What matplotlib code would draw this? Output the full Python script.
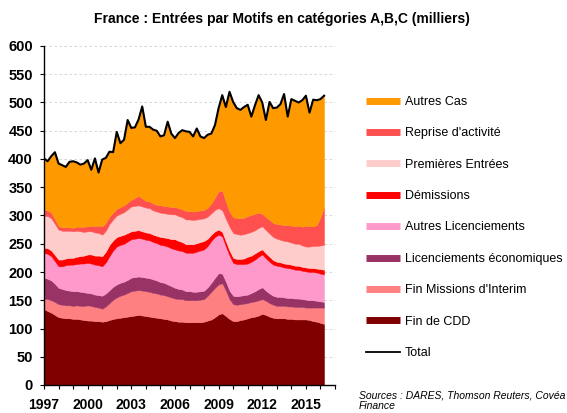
import numpy as np
import matplotlib
matplotlib.use("Agg")
import matplotlib.pyplot as plt
from matplotlib.lines import Line2D

plt.rcParams['font.family'] = ['Liberation Sans', 'DejaVu Sans']

start_year = 1997
step = 0.25  # quarterly

fin_cdd = [134, 131, 128, 124, 120, 119, 118, 118, 117, 117, 116, 115,
           114, 114, 113, 113, 112, 113, 115, 117, 118, 119, 120, 121,
           122, 123, 124, 123, 122, 121, 120, 119, 118, 117, 116, 114,
           113, 112, 112, 111, 111, 111, 111, 111, 112, 114, 116, 120,
           125, 127, 122, 117, 113, 113, 115, 116, 118, 120, 121, 123,
           126, 124, 121, 119, 118, 118, 118, 117, 117, 116, 116, 116,
           116, 115, 113, 112, 110, 108]
fin_interim = [19, 21, 22, 23, 23, 23, 23, 23, 23, 24, 24, 25,
               27, 26, 25, 24, 23, 26, 30, 34, 37, 39, 40, 42,
               44, 44, 44, 44, 44, 44, 43, 43, 42, 42, 41, 41,
               40, 40, 40, 39, 39, 39, 39, 40, 40, 44, 49, 52,
               53, 53, 45, 35, 30, 29, 28, 28, 27, 27, 27, 27,
               26, 25, 24, 23, 22, 22, 22, 22, 22, 22, 22, 22,
               21, 22, 24, 25, 27, 29]
lic_eco = [37, 36, 35, 32, 29, 28, 27, 26, 26, 25, 25, 24,
           22, 22, 22, 22, 23, 23, 23, 23, 23, 23, 23, 23,
           24, 24, 24, 24, 24, 24, 24, 23, 22, 22, 21, 20,
           19, 18, 17, 16, 16, 15, 15, 15, 15, 15, 16, 18,
           20, 17, 16, 15, 15, 15, 15, 15, 15, 16, 18, 20,
           21, 18, 17, 16, 16, 16, 15, 15, 15, 15, 15, 14,
           14, 13, 13, 12, 11, 10]
autres_lic = [44, 44, 43, 40, 38, 40, 44, 46, 47, 48, 50, 51,
              53, 53, 53, 53, 52, 55, 60, 64, 67, 67, 67, 68,
              68, 68, 68, 68, 67, 67, 66, 66, 66, 66, 67, 67,
              68, 68, 68, 68, 68, 69, 71, 72, 73, 73, 74, 72,
              68, 66, 62, 62, 58, 57, 56, 55, 55, 55, 56, 57,
              58, 57, 56, 55, 55, 54, 53, 53, 52, 51, 51, 50,
              50, 50, 50, 50, 49, 49]
demissions = [9, 10, 10, 11, 12, 12, 12, 12, 12, 13, 13, 14,
              15, 16, 16, 17, 18, 19, 20, 18, 17, 16, 16, 15,
              14, 14, 14, 13, 13, 13, 13, 13, 14, 14, 15, 16,
              18, 17, 16, 15, 15, 15, 15, 15, 15, 13, 11, 10,
              9, 8, 9, 9, 9, 9, 9, 10, 12, 11, 11, 10,
              9, 9, 9, 8, 7, 7, 7, 7, 7, 7, 7, 7,
              7, 7, 7, 7, 8, 8]
premieres = [56, 57, 57, 55, 53, 51, 49, 48, 47, 46, 44, 42,
             41, 41, 41, 40, 38, 37, 37, 37, 38, 39, 40, 42,
             44, 44, 44, 44, 44, 44, 43, 43, 43, 43, 43, 44,
             44, 44, 44, 44, 44, 43, 42, 41, 40, 39, 38, 38,
             38, 38, 40, 42, 44, 44, 43, 43, 42, 42, 41, 41,
             41, 41, 41, 41, 41, 40, 40, 40, 39, 39, 39, 38,
             37, 38, 39, 40, 42, 44]
reprise = [11, 10, 10, 8, 6, 6, 6, 6, 6, 7, 8, 9,
           9, 10, 11, 13, 15, 14, 13, 12, 12, 12, 12, 12,
           12, 14, 17, 14, 12, 12, 12, 12, 13, 13, 13, 13,
           13, 14, 14, 15, 15, 15, 15, 15, 15, 16, 17, 22,
           30, 35, 30, 27, 28, 28, 29, 29, 30, 30, 29, 27,
           22, 23, 24, 25, 26, 27, 28, 29, 30, 31, 32, 33,
           37, 36, 35, 37, 50, 66]
autres_cas = [91, 87, 100, 119, 111, 110, 107, 116, 118, 114, 110, 112,
              117, 99, 120, 94, 118, 115, 115, 107, 136, 113, 116, 146,
              127, 125, 135, 163, 131, 132, 131, 131, 122, 125, 150, 130,
              122, 133, 140, 141, 140, 133, 146, 131, 127, 129, 124, 128,
              147, 169, 168, 212, 204, 195, 192, 196, 197, 174, 192, 208,
              197, 172, 209, 203, 206, 213, 232, 192, 224, 222, 218, 224,
              230, 201, 224, 221, 209, 198]

labels = ["Fin de CDD", "Fin Missions d'Interim", "Licenciements économiques",
          "Autres Licenciements", "Démissions", "Premières Entrées",
          "Reprise d'activité", "Autres Cas"]
colors = ["#800000", "#FF8080", "#993366", "#FF99CC", "#FF0000",
          "#FFCCCC", "#FF5050", "#FF9900"]

series = [fin_cdd, fin_interim, lic_eco, autres_lic, demissions,
          premieres, reprise, autres_cas]
data = np.array(series, dtype=float)
n = data.shape[1]
x = start_year + np.arange(n) * step
total = data.sum(axis=0)

fig = plt.figure(figsize=(5.67, 4.13), dpi=100)
ax = fig.add_axes([44/567, 28/413, 291/567, 339/413])

polys = ax.stackplot(x, data, colors=colors, labels=labels,
                     linewidth=0.3, zorder=2)
for p, c in zip(polys, colors):
    p.set_edgecolor(c)
ax.plot(x, total, color='black', lw=1.5, zorder=3, label='Total')

ax.set_xlim(1997, 2017)
ax.set_ylim(0, 600)
ax.set_yticks(np.arange(0, 601, 50))
ax.set_xticks(np.arange(1997, 2017, 3))
ax.set_xticks(np.arange(1997, 2018, 1), minor=True)
ax.yaxis.grid(True, color='#d0d0d0', linestyle=(0, (3, 3)), lw=0.6, zorder=0)
ax.set_axisbelow(True)
for s in ['top', 'right']:
    ax.spines[s].set_visible(False)
ax.spines['left'].set_linewidth(1.0)
ax.spines['bottom'].set_linewidth(1.0)
ax.tick_params(axis='y', direction='out', length=3, width=0.8, pad=5,
               labelsize=10.5)
ax.tick_params(axis='x', which='both', direction='out', length=3, width=0.8,
               pad=6.5, labelsize=10)
for lab in ax.get_xticklabels() + ax.get_yticklabels():
    lab.set_fontweight('bold')

fig.text(0.497, 1 - 19/413, "France : Entrées par Motifs en catégories A,B,C (milliers)",
         ha='center', va='center', fontsize=10, fontweight='bold')

handles = [Line2D([], [], color=c, lw=5, solid_capstyle='butt')
           for c in colors[::-1]]
handles.append(Line2D([], [], color='black', lw=1.3))
leg_labels = labels[::-1] + ['Total']
fig.legend(handles, leg_labels, loc='upper left',
           bbox_to_anchor=(366/567, 1 - 96/413), frameon=False,
           fontsize=9, handlelength=2.7, handletextpad=0.4,
           labelspacing=1.55, borderaxespad=0, borderpad=0)

fig.text(359/567, 1 - 401/413, "Sources : DARES, Thomson Reuters, Covéa\nFinance",
         ha='left', va='center', fontsize=7.5, style='italic', linespacing=1.05)

fig.savefig("out.png", dpi=100)
